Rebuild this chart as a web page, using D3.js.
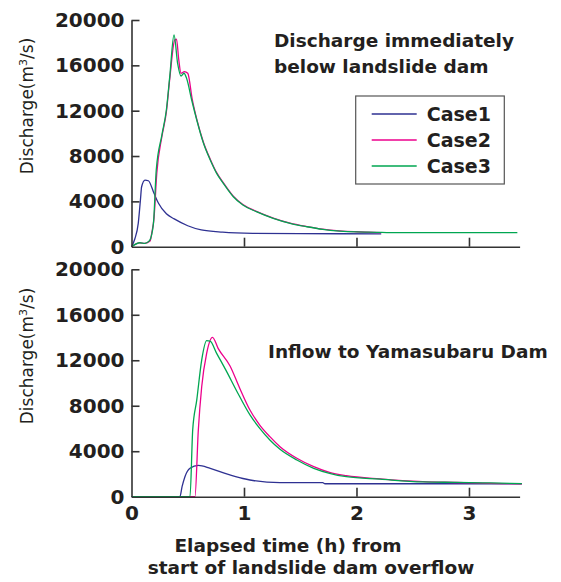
<!DOCTYPE html>
<html>
<head>
<meta charset="utf-8">
<script src="https://cdn.jsdelivr.net/npm/d3@7"></script>
<style>
  body { margin: 0; background: #fff; }
  text { font-family: "DejaVu Sans", sans-serif; fill: #231f20; }
  .axis path, .axis line { stroke: #333; stroke-width: 1.6; }
  .axis text { font-size: 20px; font-weight: bold; fill: #231f20; font-family: "DejaVu Sans", sans-serif; }
  .curve { fill: none; stroke-width: 1.3; stroke-linejoin: round; }
</style>
</head>
<body>
<svg width="561" height="582"></svg>
<script>
// series names and colours
const caseNames  = ["Case1", "Case2", "Case3"];
const caseColors = ["#2e3192", "#ec008c", "#00a651"];

const yLabels = [0, 4000, 8000, 12000, 16000, 20000];
const xTicks = [1, 2, 3];
const xLabels = [0, 1, 2, 3];

// discharge immediately below landslide dam: [hours, m3/s]
const belowCase1 = [[0,0],[0.03,700],[0.06,2060],[0.08,4200],[0.09,5290],[0.12,5880],[0.15,5820],[0.2,4710],
  [0.24,3830],[0.31,2900],[0.38,2450],[0.5,1850],[0.62,1480],[0.81,1280],[1.08,1180],[1.5,1150],[2.22,1140]];
const belowCase2 = [[0,0],[0.07,330],[0.12,300],[0.165,500],[0.18,1200],[0.2,2500],[0.225,6500],[0.27,9700],
  [0.31,11900],[0.34,14800],[0.385,18250],[0.4,18300],[0.42,16500],[0.44,15300],[0.47,15450],[0.5,15300],
  [0.54,13000],[0.58,11250],[0.64,9200],[0.7,7720],[0.757,6530],[0.816,5650],[0.905,4460],[0.99,3720],
  [1.11,3120],[1.26,2530],[1.41,2080],[1.56,1780],[1.7,1550],[1.85,1400],[2.0,1320],[2.22,1250]];
const belowCase3 = [[0,0],[0.075,350],[0.12,300],[0.16,530],[0.195,2060],[0.22,6770],[0.27,9850],[0.31,12060],
  [0.34,15000],[0.378,18680],[0.41,16180],[0.44,15060],[0.467,15300],[0.49,14850],[0.535,12940],[0.58,11180],
  [0.64,9120],[0.7,7650],[0.757,6470],[0.816,5590],[0.905,4410],[0.99,3680],[1.11,3090],[1.26,2500],
  [1.41,2060],[1.56,1760],[1.7,1530],[1.85,1380],[2.0,1300],[2.18,1270],[2.3,1240],[3.43,1240]];

// inflow to Yamasubaru Dam: [hours, m3/s]
const inflowCase1 = [[0,0],[0.43,0],[0.45,900],[0.475,1760],[0.52,2500],[0.594,2760],[0.7,2500],[0.846,2000],
  [0.99,1600],[1.053,1470],[1.32,1230],[1.7,1230],[1.72,1140],[3.47,1140]];
const inflowCase2 = [[0,0],[0.564,0],[0.594,5870],[0.624,9670],[0.668,12610],[0.72,14020],[0.77,13050],
  [0.876,11500],[0.964,9500],[1.053,7620],[1.14,6300],[1.23,5280],[1.32,4400],[1.47,3380],[1.62,2640],
  [1.76,2140],[1.91,1850],[2.21,1560],[2.59,1320],[2.89,1250],[3.19,1180],[3.47,1120]];
const inflowCase3 = [[0,0],[0.52,0],[0.544,5870],[0.58,8500],[0.624,12020],[0.668,13720],[0.698,13690],
  [0.757,12610],[0.846,11000],[0.935,9300],[1.053,7190],[1.14,6010],[1.23,4990],[1.32,4170],[1.47,3230],
  [1.62,2500],[1.76,2060],[1.91,1760],[2.21,1540],[2.59,1300],[2.89,1260],[3.19,1210],[3.47,1150]];

const svg = d3.select("svg");

const x = d3.scaleLinear().domain([0, 3.45]).range([131.5, 519.6]);

const panels = [
  { y: d3.scaleLinear().domain([0, 20000]).range([246.7, 20]),
    series: [belowCase1, belowCase2, belowCase3], xLabels: false, labelY: 106 },
  { y: d3.scaleLinear().domain([0, 20000]).range([496.7, 269.3]),
    series: [inflowCase1, inflowCase2, inflowCase3], xLabels: true, labelY: 356 }
];

panels.forEach(function(p) {
  const line = d3.line()
    .curve(d3.curveMonotoneX)
    .x(d => x(d[0]))
    .y(d => p.y(d[1]));

  // curves
  p.series.forEach(function(s, i) {
    svg.append("path")
      .datum(s)
      .attr("class", "curve")
      .attr("stroke", caseColors[i])
      .attr("d", line);
  });

  // y axis: ticks point inward
  const yAxis = svg.append("g")
    .attr("class", "axis")
    .attr("transform", `translate(${x(0)},0)`)
    .call(d3.axisLeft(p.y).tickValues(yLabels).tickFormat(d3.format("d"))
      .tickSize(-8).tickSizeOuter(0).tickPadding(7));
  yAxis.selectAll(".tick").filter(d => d === 0).select("line").remove();

  // x axis
  const xAxis = svg.append("g")
    .attr("class", "axis")
    .attr("transform", `translate(0,${p.y(0)})`)
    .call(d3.axisBottom(x).tickValues(p.xLabels ? xLabels : xTicks).tickFormat(d3.format("d"))
      .tickSize(-9).tickSizeOuter(0).tickPadding(9));
  xAxis.selectAll(".tick").filter(d => d === 0).select("line").remove();
  if (!p.xLabels) xAxis.selectAll("text").remove();

  // y title
  const yt = svg.append("text")
    .attr("transform", `translate(33,${p.labelY}) rotate(-90)`)
    .attr("text-anchor", "middle")
    .attr("font-size", 17);
  yt.append("tspan").text("Discharge(m");
  yt.append("tspan").attr("baseline-shift", "super").attr("font-size", 11).text("3");
  yt.append("tspan").text("/s)");
});

// panel titles
const titles = [
  { text: "Discharge immediately", x: 274, y: 47 },
  { text: "below landslide dam", x: 274, y: 73 },
  { text: "Inflow to Yamasubaru Dam", x: 268, y: 358 }
];
svg.selectAll("text.title")
  .data(titles)
  .enter()
  .append("text")
  .attr("class", "title")
  .attr("x", d => d.x)
  .attr("y", d => d.y)
  .attr("font-size", 18.5)
  .attr("font-weight", "bold")
  .text(d => d.text);

// legend
const legend = svg.append("g");
legend.append("rect")
  .attr("x", 355.7).attr("y", 96)
  .attr("width", 148.6).attr("height", 88)
  .attr("fill", "#fff")
  .attr("stroke", "#555")
  .attr("stroke-width", 1.2);
caseNames.forEach(function(name, i) {
  const ly = 114 + i * 26;
  legend.append("line")
    .attr("x1", 371.7).attr("x2", 416.7)
    .attr("y1", ly).attr("y2", ly)
    .attr("stroke", caseColors[i])
    .attr("stroke-width", 1.4);
  legend.append("text")
    .attr("x", 426.7).attr("y", ly + 7)
    .attr("font-size", 19)
    .attr("font-weight", "bold")
    .text(name);
});

// x title
const xTitle = [
  { text: "Elapsed time (h) from", x: 288, y: 552 },
  { text: "start of landslide dam overflow", x: 311, y: 574 }
];
svg.selectAll("text.xtitle")
  .data(xTitle)
  .enter()
  .append("text")
  .attr("class", "xtitle")
  .attr("x", d => d.x)
  .attr("y", d => d.y)
  .attr("text-anchor", "middle")
  .attr("font-size", 18.5)
  .attr("font-weight", "bold")
  .text(d => d.text);
</script>
</body>
</html>
